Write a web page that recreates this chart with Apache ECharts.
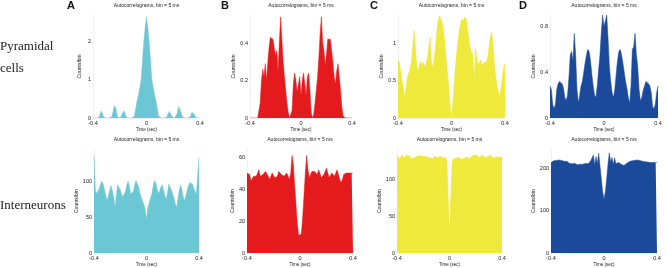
<!DOCTYPE html>
<html>
<head>
<meta charset="utf-8">
<script src="https://cdn.jsdelivr.net/npm/echarts@6/dist/echarts.min.js"></script>
<style>
  html, body { margin: 0; padding: 0; background: #fff; }
  #chart { width: 666px; height: 268px; }
</style>
</head>
<body>
<div id="chart"></div>
<script>
// bin centres, -0.4 .. 0.4 sec, every 10 ms
var times = [];
for (var i = -40; i <= 40; i++) times.push(i / 100);

// pyramidal cells (top row)
var pyrA = [
  0, 0, 0, 0, 0, 0.06, 0.18, 0.12, 0.02, 0,
  0, 0, 0, 0, 0.03, 0.16, 0.32, 0.26, 0.08, 0,
  0, 0.03, 0.12, 0.19, 0.10, 0.02, 0, 0, 0, 0,
  0, 0.05, 0.25, 0.45, 0.6, 0.8, 1.0, 1.5, 2.0, 2.35,
  2.65,
  2.35, 2.0, 1.5, 1.0, 0.8, 0.6, 0.45, 0.25, 0.05, 0,
  0, 0, 0, 0, 0.02, 0.10, 0.17, 0.14, 0.04, 0,
  0, 0.02, 0.12, 0.30, 0.31, 0.12, 0.02, 0, 0, 0,
  0, 0, 0.04, 0.15, 0.19, 0.08, 0, 0, 0, 0
];
var pyrB = [
  0, 0, 0, 0, 0, 0, 0, 0, 0.08, 0.2,
  0.26, 0.22, 0.29, 0.2, 0.3, 0.38, 0.43, 0.44, 0.42, 0.43,
  0.33, 0.36, 0.25, 0.40, 0.54, 0.42, 0.30, 0.22, 0.15, 0.08,
  0.03, 0, 0, 0.04, 0.18, 0.24, 0.2, 0.14, 0.18, 0.22,
  0.12,
  0.2, 0.24, 0.18, 0.12, 0.22, 0.24, 0.15, 0.03, 0, 0.02,
  0.08, 0.15, 0.22, 0.32, 0.45, 0.54, 0.40, 0.36, 0.28, 0.34,
  0.42, 0.43, 0.42, 0.36, 0.30, 0.22, 0.18, 0.25, 0.29, 0.22,
  0.15, 0.06, 0.01, 0, 0, 0, 0, 0, 0, 0
];
var pyrC = [
  0.78, 0.75, 0.62, 0.50, 0.40, 0.28, 0.40, 0.55, 0.60, 0.65,
  0.75, 0.95, 1.18, 0.95, 0.70, 0.62, 0.72, 0.76, 0.70, 0.75,
  0.68, 0.74, 0.80, 0.95, 1.08, 0.75, 0.68, 0.78, 0.95, 1.15,
  1.30, 1.37, 1.33, 1.32, 1.20, 1.00, 0.80, 0.60, 0.40, 0.18,
  0,
  0.20, 0.45, 0.70, 0.90, 1.05, 1.20, 1.28, 1.33, 1.30, 1.35,
  1.32, 1.20, 1.05, 0.95, 0.88, 0.85, 0.50, 0.95, 0.78, 0.72,
  0.75, 0.78, 0.70, 0.74, 0.72, 0.75, 0.80, 0.95, 1.10, 1.15,
  1.00, 0.75, 0.55, 0.45, 0.35, 0.28, 0.40, 0.55, 0.68, 0.73
];
var pyrD = [
  0.28, 0.25, 0.12, 0.08, 0.12, 0.25, 0.30, 0.32, 0.32, 0.30,
  0.26, 0.18, 0.15, 0.20, 0.35, 0.55, 0.58, 0.50, 0.74, 0.55,
  0.25, 0.13, 0.20, 0.28, 0.32, 0.40, 0.48, 0.55, 0.60, 0.58,
  0.50, 0.38, 0.28, 0.20, 0.18, 0.28, 0.42, 0.55, 0.75, 0.90,
  0.80,
  0.85, 0.90, 0.70, 0.45, 0.32, 0.22, 0.18, 0.25, 0.38, 0.50,
  0.58, 0.60, 0.55, 0.48, 0.40, 0.32, 0.26, 0.18, 0.13, 0.28,
  0.60, 0.62, 0.74, 0.55, 0.45, 0.25, 0.15, 0.18, 0.24, 0.28,
  0.32, 0.32, 0.30, 0.28, 0.22, 0.10, 0.08, 0.12, 0.22, 0.28
];

// interneurons (bottom row)
var intA = [
  136, 88, 83, 84, 90, 96, 100, 96, 88, 80,
  74, 80, 88, 94, 92, 78, 64, 80, 95, 96,
  88, 82, 78, 77, 86, 95, 100, 92, 82, 80,
  86, 95, 101, 100, 92, 84, 77, 72, 68, 60,
  47,
  62, 70, 76, 82, 92, 101, 98, 90, 83, 86,
  92, 95, 88, 80, 75, 84, 96, 95, 88, 82,
  76, 68, 64, 76, 88, 95, 88, 78, 73, 80,
  88, 94, 98, 100, 96, 90, 86, 82, 84, 134
];
var intB = [
  50, 50, 49, 45, 44, 48, 49, 48, 50, 52,
  48, 47, 49, 48, 51, 52, 48, 46, 48, 50,
  49, 47, 46, 48, 51, 52, 49, 48, 48, 49,
  50, 49, 46, 50, 61, 55, 42, 30, 18, 11,
  10,
  12, 22, 36, 50, 61, 52, 47, 49, 51, 50,
  51, 50, 49, 52, 50, 47, 48, 49, 51, 53,
  50, 47, 48, 50, 49, 48, 50, 52, 49, 46,
  44, 46, 49, 50, 50, 51, 50, 50, 50, 50
];
var intC = [
  133, 132, 129, 131, 134, 130, 128, 133, 135, 133,
  131, 129, 128, 130, 131, 132, 131, 133, 134, 132,
  130, 132, 133, 131, 129, 130, 131, 129, 130, 132,
  131, 130, 131, 132, 131, 130, 131, 130, 125, 75,
  28,
  78, 125, 129, 128, 129, 130, 131, 130, 128, 127,
  129, 130, 131, 130, 129, 130, 132, 133, 134, 135,
  133, 131, 130, 132, 134, 133, 130, 129, 131, 133,
  134, 131, 129, 130, 132, 131, 130, 131, 132, 131
];
var intD = [
  214, 216, 218, 219, 219, 220, 220, 219, 219, 218,
  217, 216, 217, 214, 212, 210, 211, 214, 212, 210,
  209, 211, 210, 207, 210, 214, 212, 209, 211, 215,
  218, 214, 232, 208, 228, 212, 236, 205, 175, 145,
  127,
  145, 175, 210, 237, 215, 226, 210, 225, 211, 212,
  214, 212, 210, 208, 207, 210, 212, 214, 216, 217,
  218, 219, 219, 220, 220, 219, 219, 218, 217, 217,
  216, 216, 215, 215, 214, 214, 214, 214, 214, 214
];

var cyan = "#6cc7d4", red = "#e41a1c", yellow = "#efe93b", blue = "#1b4a9b";

var panels = [
  { data: pyrA, color: cyan,   max: 2.7,  interval: 1,   box: [93, 15, 107, 103], gap: 11 },
  { data: pyrB, color: red,    max: 0.55, interval: 0.2, box: [250, 15, 102, 103], gap: 13 },
  { data: pyrC, color: yellow, max: 1.38, interval: 0.5, box: [398, 15, 107, 103], gap: 5 },
  { data: pyrD, color: blue,   max: 0.9,  interval: 0.4, box: [550, 15, 108, 103], gap: 9 },
  { data: intA, color: cyan,   max: 145,  interval: 50,  box: [94, 149, 105, 107], gap: 13 },
  { data: intB, color: red,    max: 65,   interval: 20,  box: [247, 149, 106, 107], gap: 4 },
  { data: intC, color: yellow, max: 142,  interval: 50,  box: [397, 149, 105, 107], gap: 11 },
  { data: intD, color: blue,   max: 246,  interval: 100, box: [551, 149, 106, 107], gap: 13 }
];

var myChart = echarts.init(document.getElementById("chart"));

var textColor = "#222";
var font = "Liberation Sans";

// only label real ticks, not the axis max
function tickLabel(step) {
  return function (v) {
    var k = v / step;
    return Math.abs(k - Math.round(k)) < 1e-6 ? String(+v.toFixed(2)) : "";
  };
}

var option = {
  animation: false,
  backgroundColor: "#fff",
  title: panels.map(function (p) {
    return {
      text: "Autocorrelograms, bin = 5 ms",
      left: p.box[0] + p.box[2] / 2,
      top: p.box[1] - 12,
      padding: 0,
      textAlign: "center",
      textStyle: { fontSize: 5, fontWeight: "normal", color: textColor, fontFamily: font }
    };
  }),
  grid: panels.map(function (p) {
    return { left: p.box[0], top: p.box[1], width: p.box[2], height: p.box[3], containLabel: false };
  }),
  xAxis: panels.map(function (p, i) {
    return {
      gridIndex: i, type: "value", min: -0.4, max: 0.4, interval: 0.4,
      name: "Time (sec)", nameLocation: "middle", nameGap: 7,
      nameTextStyle: { fontSize: 4.5, color: textColor, fontFamily: font },
      axisLine: { onZero: false, lineStyle: { color: "#e4e4e4", width: 0.5 } },
      axisTick: { show: false },
      splitLine: { show: false },
      axisLabel: { fontSize: 5.5, margin: 2, color: textColor, fontFamily: font }
    };
  }),
  yAxis: panels.map(function (p, i) {
    return {
      gridIndex: i, type: "value", min: 0, max: p.max, interval: p.interval,
      name: "Counts/bin", nameLocation: "middle", nameGap: p.gap,
      nameTextStyle: { fontSize: 5, color: textColor, fontFamily: font },
      axisLine: { show: true, onZero: false, lineStyle: { color: "#e4e4e4", width: 0.5 } },
      axisTick: { show: false },
      splitLine: { show: false },
      axisLabel: { fontSize: 5.5, margin: 2, color: textColor, fontFamily: font, formatter: tickLabel(p.interval) }
    };
  }),
  series: panels.map(function (p, i) {
    return {
      type: "line",
      xAxisIndex: i, yAxisIndex: i,
      data: times.map(function (t, k) { return [t, p.data[k]]; }),
      symbol: "none",
      silent: true,
      lineStyle: { color: p.color, width: 0.5 },
      areaStyle: { color: p.color, opacity: 1 }
    };
  }),
  graphic: [
    { type: "text", left: 0, top: 40, style: { text: "Pyramidal", font: "13px 'Liberation Serif'", fill: "#222" } },
    { type: "text", left: 0, top: 62, style: { text: "cells", font: "13px 'Liberation Serif'", fill: "#222" } },
    { type: "text", left: 0, top: 199, style: { text: "Interneurons", font: "13px 'Liberation Serif'", fill: "#222" } },
    { type: "text", left: 67, top: 0, style: { text: "A", font: "bold 11px 'Liberation Sans'", fill: "#111" } },
    { type: "text", left: 221, top: 0, style: { text: "B", font: "bold 11px 'Liberation Sans'", fill: "#111" } },
    { type: "text", left: 370, top: 0, style: { text: "C", font: "bold 11px 'Liberation Sans'", fill: "#111" } },
    { type: "text", left: 519, top: 0, style: { text: "D", font: "bold 11px 'Liberation Sans'", fill: "#111" } }
  ]
};

myChart.setOption(option);
</script>
</body>
</html>
